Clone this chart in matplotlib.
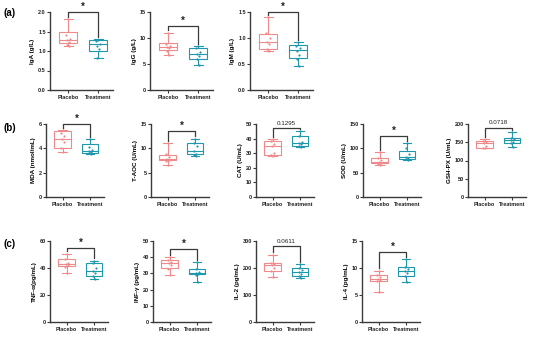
import matplotlib
matplotlib.use("Agg")
import matplotlib.pyplot as plt

plt.rcParams["font.family"] = ["Liberation Sans", "DejaVu Sans"]
plt.rcParams["font.weight"] = "bold"

PLACEBO = "#f08a8a"
TREAT = "#1f97ad"
AXIS = "#3a3a3a"

groups = ["Placebo", "Treatment"]

# box stats per panel: (whislo, q1, med, q3, whishi)
ylabels = ["IgA (g/L)", "IgG (g/L)", "IgM (g/L)",
           "MDA (nmol/mL)", "T-AOC (U/mL)", "CAT (U/mL)", "SOD (U/mL)", "GSH-PX (U/mL)",
           "TNF-\u03b1(pg/mL)", "INF-\u03b3 (pg/mL)", "IL-2 (pg/mL)", "IL-4 (pg/mL)"]
ymax = [2.0, 15, 1.5, 6, 15, 50, 150, 200, 60, 50, 300, 15]
ystep = [0.5, 5, 0.5, 2, 5, 10, 50, 50, 20, 10, 100, 5]
yfmt = ["%.1f", "%d", "%.1f", "%d", "%d", "%d", "%d", "%d", "%d", "%d", "%d", "%d"]

placebo_box = [(1.12, 1.2, 1.28, 1.5, 1.82), (6.7, 7.6, 8.3, 9.0, 11.0), (0.75, 0.78, 0.93, 1.08, 1.4),
               (3.7, 4.0, 4.8, 5.4, 5.5), (6.6, 7.6, 7.9, 8.6, 11.0), (28, 28.5, 35, 38.5, 39.5),
               (66, 70, 72, 80, 92), (133, 135, 148, 153, 158),
               (36, 41.5, 43, 46.5, 50.5), (29, 33.5, 36.5, 38, 40), (165, 190, 210, 218, 250),
               (5.5, 7.6, 8.0, 8.7, 9.5)]
treat_box = [(0.83, 1.0, 1.17, 1.28, 1.3), (4.9, 6.0, 7.0, 8.0, 8.4), (0.46, 0.62, 0.77, 0.87, 0.92),
             (3.5, 3.6, 3.8, 4.35, 4.75), (8.5, 8.8, 9.5, 11.0, 12.0), (34, 35, 37, 42, 45),
             (76, 79, 83, 95, 110), (136, 149, 155, 163, 178),
             (31.5, 34, 38, 43.5, 45.5), (25, 29.5, 30, 32.5, 37), (163, 172, 185, 200, 215),
             (7.4, 8.6, 9.4, 10.2, 11.6)]

placebo_pts = [[1.82, 1.4, 1.3, 1.27, 1.22, 1.15, 1.12], [11.0, 8.8, 8.5, 8.3, 8.0, 7.5, 6.7],
               [1.4, 1.1, 1.0, 0.93, 0.88, 0.78, 0.75], [5.5, 5.3, 5.0, 4.8, 4.5, 4.0, 3.7],
               [11.0, 8.8, 8.3, 7.9, 7.7, 7.5, 6.6], [39.5, 38.5, 36, 35, 30, 28.5, 28],
               [92, 80, 75, 72, 70, 68, 66], [158, 153, 150, 148, 140, 135, 133],
               [50.5, 47, 44, 43, 42, 41, 36], [40, 38, 37, 36.5, 35, 33, 29],
               [250, 220, 215, 210, 200, 190, 165], [9.5, 8.7, 8.3, 8.0, 7.8, 7.6, 5.5]]
treat_pts = [[1.28, 1.25, 1.18, 1.12, 1.05, 0.83], [8.4, 8.0, 7.4, 7.0, 6.5, 6.0, 4.9],
             [0.92, 0.85, 0.8, 0.75, 0.68, 0.6, 0.46], [4.75, 4.1, 3.9, 3.8, 3.7, 3.6, 3.5],
             [12.0, 11.0, 10.5, 9.5, 8.9, 8.6, 8.5], [45, 42, 38, 37, 36, 35, 34],
             [110, 100, 88, 83, 81, 79, 76], [178, 163, 158, 155, 152, 149, 136],
             [45.5, 44, 40, 38, 36, 34, 31.5], [37, 33, 31, 30, 29.5, 29, 25],
             [215, 200, 192, 185, 178, 172, 163], [11.6, 10.2, 9.8, 9.4, 9.0, 8.6, 7.4]]

sig_text = ["*", "*", "*", "*", "*", "0.1295", "*", "0.0718", "*", "*", "0.0611", "*"]
bracket_y = [2.0, 12.3, 1.5, 6.0, 13.5, 47, 125, 190, 55, 45, 280, 13]

rows = [(0, 3), (3, 8), (8, 12)]
# panel placement in pixels (fig 550x337)
row_top = [12, 124, 241]
row_bottom = [90, 197, 322]
row_lefts = [[50, 150, 250], [46, 151, 256, 363, 468], [50, 153, 256, 362]]
row_width = [63, 58, 58]
row_tags = ["(a)", "(b)", "(c)"]
tag_y = [13, 128, 244]

W, H = 550, 337
fig = plt.figure(figsize=(W / 100, H / 100), dpi=100)

for r, (i0, i1) in enumerate(rows):
    fig.text(4 / W, 1 - tag_y[r] / H, row_tags[r], fontsize=7, fontweight="bold", va="center")
    for k, i in enumerate(range(i0, i1)):
        left = row_lefts[r][k]
        ax = fig.add_axes([left / W, 1 - row_bottom[r] / H, row_width[r] / W,
                           (row_bottom[r] - row_top[r]) / H])
        stats = []
        for s in (placebo_box[i], treat_box[i]):
            stats.append(dict(whislo=s[0], q1=s[1], med=s[2], q3=s[3], whishi=s[4], fliers=[]))
        bp = ax.bxp(stats, positions=[1, 2], widths=0.6, patch_artist=True, showfliers=False)
        for j, c in enumerate([PLACEBO, TREAT]):
            bp["boxes"][j].set(facecolor="none", edgecolor=c, linewidth=0.8)
            bp["medians"][j].set(color=c, linewidth=0.8)
            for w in bp["whiskers"][2 * j:2 * j + 2]:
                w.set(color=c, linewidth=0.8)
            for cap in bp["caps"][2 * j:2 * j + 2]:
                cap.set(color=c, linewidth=0.8)
                xd = cap.get_xdata()
                m = (xd[0] + xd[1]) / 2
                cap.set_xdata([m - 0.15, m + 0.15])
        offs = [0, -0.06, 0.06, -0.03, 0.04, -0.05, 0.03]
        for j, (pts, c) in enumerate([(placebo_pts[i], PLACEBO), (treat_pts[i], TREAT)]):
            xs = [j + 1 + offs[n % len(offs)] for n in range(len(pts))]
            ax.scatter(xs, pts, s=2.5, color=c, zorder=3, linewidths=0)

        top = ymax[i]
        by = bracket_y[i]
        gap = top * 0.03
        ax.plot([1, 1, 2, 2], [placebo_box[i][4] + gap, by, by, treat_box[i][4] + gap],
                color=AXIS, lw=0.9, clip_on=False)
        if sig_text[i] == "*":
            ax.text(1.5, by + top * 0.005, "*", ha="center", va="bottom", fontsize=7,
                    fontweight="bold", color="#222222", clip_on=False)
        else:
            ax.text(1.5, by + top * 0.03, sig_text[i], ha="center", va="bottom",
                    fontsize=4.5, fontweight="normal", color="#222222", clip_on=False)

        ax.set_xlim(0.4, 2.5)
        ax.set_ylim(0, top)
        ticks = [ystep[i] * n for n in range(int(round(top / ystep[i])) + 1)]
        ax.set_yticks(ticks)
        ax.set_yticklabels([yfmt[i] % t for t in ticks])
        ax.set_xticks([1, 2])
        ax.set_xticklabels(groups)
        ax.set_ylabel(ylabels[i], fontsize=4.5, fontweight="bold", labelpad=2)
        for sp in ["top", "right"]:
            ax.spines[sp].set_visible(False)
        for sp in ["left", "bottom"]:
            ax.spines[sp].set_linewidth(1.0)
            ax.spines[sp].set_color(AXIS)
        ax.tick_params(axis="y", labelsize=4, length=2, width=0.8, pad=1, colors=AXIS)
        ax.tick_params(axis="x", labelsize=4, length=2, width=0.8, pad=1.5, colors=AXIS)
        for lab in ax.get_xticklabels() + ax.get_yticklabels():
            lab.set_fontweight("bold")
            lab.set_color("#222222")

fig.savefig("out.png", dpi=100)
